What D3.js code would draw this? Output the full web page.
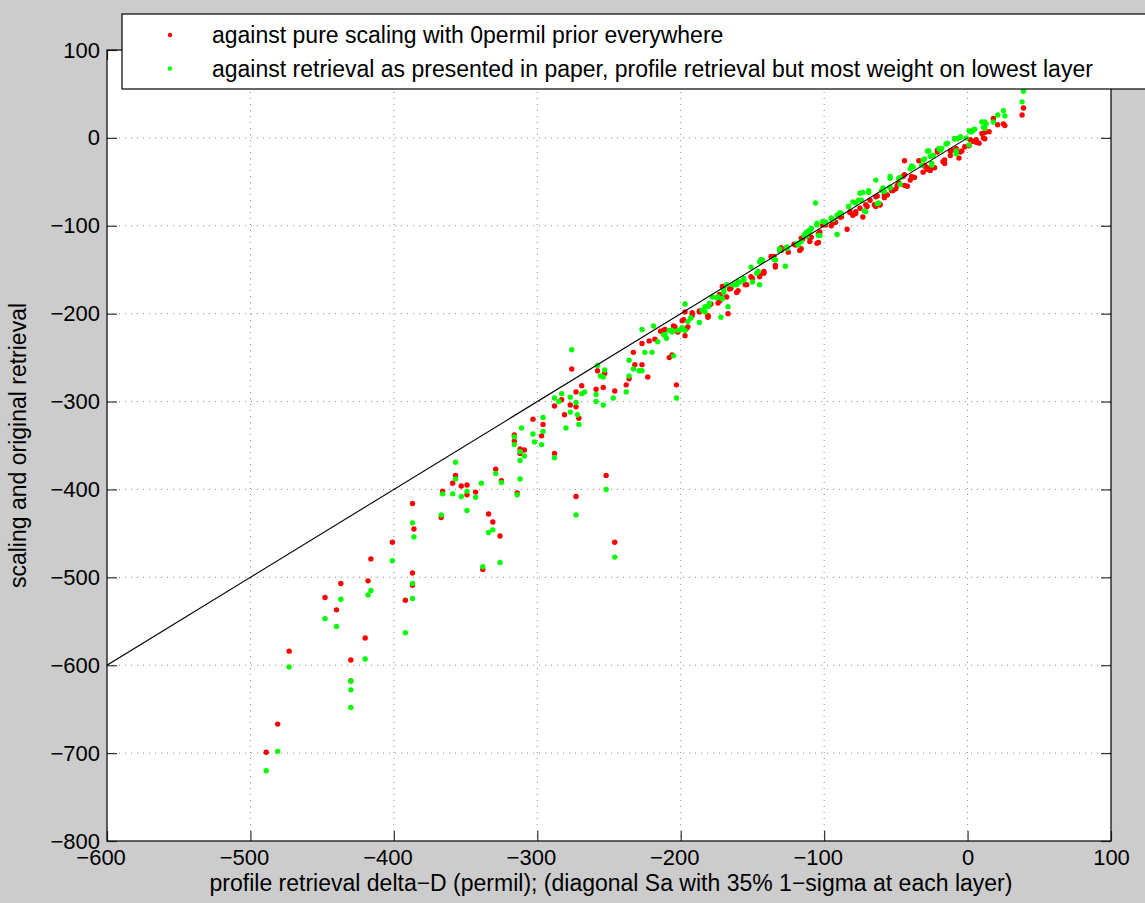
<!DOCTYPE html>
<html>
<head>
<meta charset="utf-8">
<script src="https://cdn.jsdelivr.net/npm/d3@7"></script>
<style>
body { margin: 0; background: #cccccc; }
svg { display: block; }
text { font-family: "Liberation Sans", Arial, Helvetica, sans-serif; }
</style>
</head>
<body>
<svg id="chart" width="1145" height="903"></svg>
<script>
var svgWidth = 1145;   // figure width
var svgHeight = 903;   // figure height

// tick values
var xTicks = [-600, -500, -400, -300, -200, -100, 0, 100];
var yTicks = [-800, -700, -600, -500, -400, -300, -200, -100, 0, 100];

// legend texts
var seriesNames = [
  "against pure scaling with 0permil prior everywhere",
  "against retrieval as presented in paper, profile retrieval but most weight on lowest layer"
];
var xTitle = "profile retrieval delta\u2212D (permil); (diagonal Sa with 35% 1\u2212sigma at each layer)";
var yTitle = "scaling and original retrieval";

// 1:1 reference line end points
var diagX = [-600, 0];
var diagY = [-600, 0];

// red series: against pure scaling
var scalingPts = [
  [-489,-699],[-481,-667],[-473,-584],[-448,-523],[-440,-537],[-437,-507],[-430,-594],[-430,-618],
  [-420,-569],[-418,-504],[-416,-479],[-401,-460],[-392,-526],[-387,-416],[-386,-445],[-387,-495],
  [-387,-509],[-367,-432],[-366,-402],[-359,-393],[-357,-384],[-353,-396],[-349,-395],[-349,-406],
  [-343,-403],[-338,-491],[-334,-428],[-331,-437],[-329,-377],[-326,-453],[-325,-390],[-316,-338],
  [-316,-345],[-314,-404],[-312,-354],[-309,-355],[-312,-359],[-303,-320],[-297,-339],[-296,-326],
  [-288,-359],[-288,-305],[-283,-298],[-281,-315],[-277,-304],[-276,-263],[-273,-306],[-273,-408],
  [-273,-289],[-271,-319],[-269,-282],[-259,-286],[-258,-265],[-254,-284],[-253,-268],[-252,-384],
  [-246,-460],[-246,-288],[-238,-281],[-236,-274],[-233,-244],[-232,-258],[-227,-258],[-227,-234],
  [-223,-272],[-222,-231],[-218,-229],[-214,-220],[-211,-218],[-208,-250],[-206,-247],[-205,-214],
  [-203,-281],[-202,-221],[-199,-208],[-197,-225],[-197,-198],[-195,-215],[-192,-199],[-187,-197],
  [-181,-204],[-181,-202],[-179,-189],[-173,-186],[-173,-178],[-170,-169],[-168,-181],[-167,-200],
  [-165,-171],[-160,-174],[-154,-167],[-151,-158],[-145,-158],[-144,-141],[-142,-152],[-137,-135],
  [-134,-145],[-130,-125],[-125,-130],[-121,-121],[-117,-128],[-115,-115],[-110,-118],[-109,-113],
  [-104,-119],[-103,-107],[-99,-99],[-95,-100],[-92,-96],[-88,-90],[-84,-104],[-82,-85],[-80,-88],
  [-78,-84],[-75,-80],[-73,-90],[-71,-76],[-68,-71],[-65,-76],[-63,-66],[-61,-76],[-58,-68],
  [-56,-65],[-53,-60],[-50,-58],[-48,-51],[-44,-42],[-44,-26],[-42,-55],[-40,-48],[-37,-45],
  [-34,-26],[-30,-32],[-29,-33],[-28,-36],[-26,-34],[-23,-34],[-21,-16],[-17,-27],[-16,-25],
  [-12,-20],[-11,-14],[-8,-12],[-6,-23],[-4,-15],[-2,-10],[1,-9],[2,-2],[4,-4],[6,-2],[8,-6],
  [10,5],[11,0],[12,6],[12,-1],[15,7],[18,22],[21,15],[25,16],[26,14],[38,26],[39,34],
  [-30,-31],[-39,-44],[-45,-44],[-44,-54],[-49,-54],[-52,-60],[-58,-65],[-64,-67],[-61,-76],
  [-64,-78],[-70,-78],[-78,-86],[-82,-84],[-89,-90],[-94,-97],[-101,-99],[-104,-109],[-105,-120],
  [-110,-114],[-116,-114],[-120,-122],[-130,-128],[-116,-126],[-135,-135],[-134,-147],[-144,-139],
  [-142,-154],[-145,-156],[-150,-160],[-155,-167],[-161,-176],[-166,-172],[-171,-169],[-172,-181],
  [-174,-188],[-180,-190],[-181,-203],[-187,-198],[-192,-202],[-198,-207],[-196,-217],[-204,-215],
  [-212,-219],[6,-5],[-5,-16],[-12,-15],[-17,-27],[-16,-29],[-21,-14],[-26,-37],[-28,-35],[-31,-39]
];

// green series: against retrieval as presented in paper
var paperPts = [
  [-489,-720],[-481,-698],[-473,-602],[-448,-547],[-440,-556],[-437,-525],[-430,-618],[-430,-628],
  [-430,-648],[-420,-593],[-418,-520],[-416,-515],[-401,-481],[-392,-563],[-387,-438],[-386,-454],
  [-387,-507],[-387,-524],[-367,-429],[-366,-405],[-359,-405],[-357,-369],[-357,-388],[-353,-408],
  [-349,-402],[-349,-424],[-343,-409],[-339,-393],[-338,-488],[-334,-449],[-331,-446],[-329,-382],
  [-326,-483],[-325,-392],[-316,-340],[-316,-349],[-314,-406],[-312,-357],[-312,-367],[-312,-388],
  [-311,-330],[-309,-362],[-303,-337],[-302,-346],[-297,-349],[-296,-318],[-296,-334],[-288,-364],
  [-288,-296],[-285,-300],[-283,-291],[-280,-330],[-277,-295],[-277,-312],[-276,-241],[-273,-301],
  [-273,-429],[-272,-315],[-271,-326],[-269,-291],[-267,-289],[-259,-292],[-259,-300],[-258,-259],
  [-256,-271],[-254,-304],[-254,-272],[-253,-264],[-252,-400],[-247,-296],[-246,-477],[-238,-289],
  [-236,-271],[-236,-253],[-233,-263],[-229,-265],[-227,-265],[-227,-218],[-225,-244],[-220,-244],
  [-219,-214],[-216,-232],[-211,-224],[-208,-219],[-206,-219],[-205,-248],[-203,-296],[-200,-218],
  [-199,-216],[-197,-219],[-197,-189],[-193,-205],[-187,-210],[-184,-196],[-183,-192],[-180,-189],
  [-178,-181],[-175,-182],[-174,-181],[-172,-204],[-170,-173],[-167,-192],[-164,-167],[-161,-167],
  [-160,-164],[-156,-160],[-151,-147],[-150,-164],[-146,-152],[-145,-167],[-143,-139],[-135,-138],
  [-131,-128],[-127,-146],[-126,-126],[-119,-120],[-116,-118],[-113,-109],[-112,-107],[-109,-103],
  [-106,-74],[-105,-97],[-104,-111],[-99,-96],[-95,-91],[-91,-110],[-89,-85],[-83,-78],[-78,-74],
  [-76,-71],[-73,-62],[-72,-83],[-69,-62],[-64,-48],[-63,-75],[-60,-60],[-54,-44],[-54,-56],
  [-47,-53],[-47,-45],[-39,-32],[-30,-24],[-28,-15],[-27,-15],[-25,-29],[-24,-20],[-18,-12],
  [-14,-6],[-9,-1],[-8,-15],[-5,1],[-1,0],[1,-8],[2,7],[5,10],[12,11],[12,18],[18,18],[21,26],
  [25,31],[26,25],[38,41],[39,53],
  [-31,-25],[-38,-33],[-40,-35],[-48,-46],[-54,-46],[-54,-57],[-59,-57],[-58,-61],[-69,-60],
  [-75,-63],[-74,-71],[-80,-73],[-62,-74],[-71,-84],[-83,-78],[-88,-86],[-91,-88],[-95,-92],
  [-94,-93],[-99,-97],[-101,-95],[-105,-99],[-109,-103],[-110,-107],[-103,-111],[-114,-111],
  [-112,-112],[-111,-106],[-118,-122],[-126,-124],[-131,-126],[-134,-139],[-144,-139],[-145,-141],
  [-147,-154],[-156,-162],[-159,-164],[-162,-167],[-168,-167],[-170,-176],[-174,-181],[-171,-183],
  [-180,-188],[-181,-192],[-185,-196],[-183,-198],[-193,-205],[-195,-209],[-199,-217],[-202,-219],
  [-206,-221],[-207,-219],[-212,-224],[-210,-228],[13,16],[10,18],[11,12],[4,9],[1,8],[3,7],
  [-5,1],[-7,-1],[-9,-1],[-8,-18],[-15,-7],[-19,-14],[-20,-12],[-24,-20],[-26,-21],[-25,-31],[-32,-31]
];

var colors = ["#ff0000", "#00ff00"];

// axes box (plotLeft/plotTop: "top" is a reserved window property)
var plotLeft = 107, plotTop = 50, plotW = 1004, plotH = 791;

var svg = d3.select("#chart");
svg.append("rect")
  .attr("width", svgWidth).attr("height", svgHeight)
  .attr("fill", "#cccccc");

var x = d3.scaleLinear().domain([xTicks[0], xTicks[xTicks.length - 1]]).range([0, plotW]);
var y = d3.scaleLinear().domain([yTicks[0], yTicks[yTicks.length - 1]]).range([plotH, 0]);

var g = svg.append("g").attr("transform", "translate(" + plotLeft + "," + plotTop + ")");

g.append("rect")
  .attr("width", plotW).attr("height", plotH)
  .attr("fill", "#ffffff");

// dotted grid
var grid = g.append("g").attr("class", "grid");
grid.selectAll("line.gx")
  .data(xTicks.slice(1, -1))
  .enter().append("line")
  .attr("x1", function(d) { return x(d); })
  .attr("x2", function(d) { return x(d); })
  .attr("y1", 0).attr("y2", plotH);
grid.selectAll("line.gy")
  .data(yTicks.slice(1, -1))
  .enter().append("line")
  .attr("y1", function(d) { return y(d); })
  .attr("y2", function(d) { return y(d); })
  .attr("x1", 0).attr("x2", plotW);
grid.selectAll("line")
  .attr("stroke", "#8a8a8a")
  .attr("stroke-width", 1)
  .attr("stroke-dasharray", "1,5");

// data points
g.append("clipPath").attr("id", "clip")
  .append("rect").attr("width", plotW).attr("height", plotH);

var plot = g.append("g").attr("clip-path", "url(#clip)");
[scalingPts, paperPts].forEach(function(pts, k) {
  plot.append("g").selectAll("circle")
    .data(pts)
    .enter().append("circle")
    .attr("cx", function(d) { return x(d[0]); })
    .attr("cy", function(d) { return y(d[1]); })
    .attr("r", 2.7)
    .attr("fill", colors[k]);
});

// 1:1 line
plot.append("line")
  .attr("x1", x(diagX[0])).attr("y1", y(diagY[0]))
  .attr("x2", x(diagX[1])).attr("y2", y(diagY[1]))
  .attr("stroke", "#000").attr("stroke-width", 1.1);

// axes, ticks pointing inward
var fmt = d3.format("d");
var axB = g.append("g").attr("transform", "translate(0," + plotH + ")")
  .call(d3.axisBottom(x).tickValues(xTicks).tickSizeInner(-10).tickSizeOuter(0).tickPadding(8).tickFormat(fmt));
var axL = g.append("g")
  .call(d3.axisLeft(y).tickValues(yTicks).tickSizeInner(-10).tickSizeOuter(0).tickPadding(7).tickFormat(fmt));
g.append("g")
  .call(d3.axisTop(x).tickValues(xTicks).tickSizeInner(-10).tickSizeOuter(0).tickFormat(""));
g.append("g").attr("transform", "translate(" + plotW + ",0)")
  .call(d3.axisRight(y).tickValues(yTicks).tickSizeInner(-10).tickSizeOuter(0).tickFormat(""));

g.selectAll(".domain").remove();
g.selectAll(".tick line").attr("stroke", "#333").attr("stroke-width", 1.2);
g.selectAll(".tick text").attr("font-size", 22).attr("fill", "#000")
  .style("font-family", "'Liberation Sans', Arial, Helvetica, sans-serif");

// x labels: digits centred on the tick, minus sign hanging to the left
axB.selectAll(".tick text").each(function(d) {
  var t = d3.select(this);
  var full = t.text();
  t.text(fmt(Math.abs(d)));
  var w = this.getComputedTextLength();
  t.text(full).attr("text-anchor", "end").attr("x", w / 2);
});

g.append("rect")
  .attr("width", plotW).attr("height", plotH)
  .attr("fill", "none").attr("stroke", "#000").attr("stroke-width", 1.2);

// axis titles
svg.append("text")
  .attr("x", plotLeft + plotW / 2 + 2).attr("y", 891)
  .attr("text-anchor", "middle").attr("font-size", 23)
  .text(xTitle);
svg.append("text")
  .attr("transform", "translate(26," + (plotTop + plotH / 2) + ") rotate(-90)")
  .attr("text-anchor", "middle").attr("font-size", 23)
  .text(yTitle);

// legend
var legend = svg.append("g");
legend.append("rect")
  .attr("x", 122).attr("y", 14)
  .attr("width", 1040).attr("height", 75)
  .attr("fill", "#fff").attr("stroke", "#000").attr("stroke-width", 1.2);
seriesNames.forEach(function(name, k) {
  var ly = 35 + k * 33.5;
  legend.append("circle").attr("cx", 170).attr("cy", ly).attr("r", 2.2).attr("fill", colors[k]);
  legend.append("text")
    .attr("x", 212).attr("y", ly + 8)
    .attr("font-size", 23)
    .text(name);
});
</script>
</body>
</html>
